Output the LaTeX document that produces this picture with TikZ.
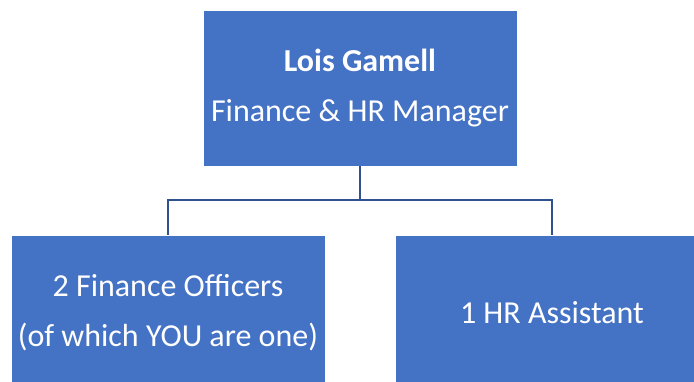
\documentclass[tikz,border=0pt]{standalone}
\usepackage{fontspec}
\setmainfont{Carlito}
\definecolor{boxblue}{HTML}{4472C4}
\definecolor{linkblue}{RGB}{47,82,143}
\tikzset{
  staffbox/.style={rectangle, fill=boxblue, draw=white, line width=0.8pt,
    minimum width=314pt, minimum height=156pt, text=white, align=center,
    inner sep=0pt, font=\fontsize{32}{50}\selectfont},
  link/.style={linkblue, line width=2pt}
}
\begin{document}
\begin{tikzpicture}[x=1pt,y=-1pt]
\useasboundingbox (0,0) rectangle (694,382);

\node[staffbox] (manager) at (360,88) {\textbf{Lois Gamell}\\Finance \& HR Manager};
\node[staffbox] (finance) at (168,313) {2 Finance Officers\\(of which YOU are one)};
\node[staffbox] (assistant) at (552,313) {1 HR Assistant};

\coordinate (bus) at (360,200);

\draw[link] (manager.south) -- (bus);
\draw[link] (finance.north) |- (bus) -| (assistant.north);

\end{tikzpicture}
\end{document}
